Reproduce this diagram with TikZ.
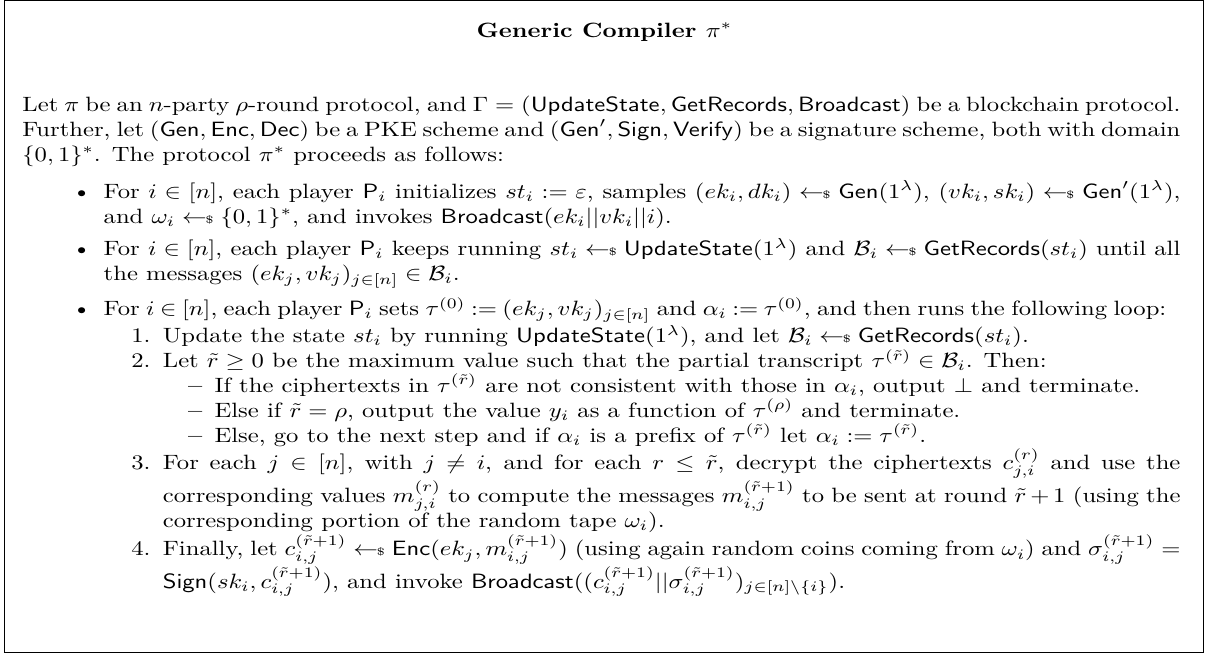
\documentclass[tikz,border=0pt]{standalone}
\usepackage{amsmath}
\usepackage{amssymb}
\usepackage{enumitem}
\usepackage{tikz}
\usetikzlibrary{positioning}

\newcommand{\smp}{\mathrel{\leftarrow\mkern-6mu{\scriptscriptstyle\$}}}
\newcommand{\alg}[1]{\mathsf{#1}}

\tikzset{
  boxtitle/.style={font=\bfseries, inner sep=0pt, yscale=0.84},
  boxbody/.style={text width=470pt, align=justify, inner sep=0pt, anchor=north west, yscale=0.84},
}

\begin{document}
\begin{tikzpicture}[x=1pt, y=1pt]
        \useasboundingbox (0, 0) rectangle (491.5, -265.8);
        \draw (2, -0.2) rectangle (488.6, -265);

        \node[boxtitle, anchor=base] (title) at (245.3, -15.2) {Generic Compiler $\pi^*$};

        \node[boxbody] (body) at (8.9, -38.8) {%
        Let $\pi$ be an $n$-party $\rho$-round protocol, and $\Gamma = (\alg{UpdateState}, \alg{GetRecords}, \alg{Broadcast})$ be a blockchain protocol. Further, let $(\alg{Gen}, \alg{Enc}, \alg{Dec})$ be a PKE scheme and $(\alg{Gen}', \alg{Sign}, \alg{Verify})$ be a signature scheme, both with domain $\{0,1\}^*$. The protocol $\pi^*$ proceeds as follows:
        \begin{itemize}[leftmargin=33pt, topsep=6pt, partopsep=0pt, itemsep=3.6pt, parsep=0pt]
          \item For $i \in [n]$, each player $\alg{P}_i$ initializes $st_i := \varepsilon$, samples $(ek_i, dk_i) \smp \alg{Gen}(1^\lambda)$, $(vk_i, sk_i) \smp \alg{Gen}'(1^\lambda)$, and $\omega_i \smp \{0,1\}^*$, and invokes $\alg{Broadcast}(ek_i || vk_i || i)$.
          \item For $i \in [n]$, each player $\alg{P}_i$ keeps running $st_i \smp \alg{UpdateState}(1^\lambda)$ and $\mathcal{B}_i \smp \alg{GetRecords}(st_i)$ until all the messages $(ek_j, vk_j)_{j \in [n]} \in \mathcal{B}_i$.
          \item {\spaceskip=.26em plus .1em minus .1em \thickmuskip=4mu plus 3mu minus 2mu For $i \in [n]$, each player $\alg{P}_i$ sets $\tau^{(0)} := (ek_j, vk_j)_{j \in [n]}$ and $\alpha_i := \tau^{(0)}$, and then runs the following loop:}
          \begin{enumerate}[nosep, leftmargin=24pt]
            \item Update the state $st_i$ by running $\alg{UpdateState}(1^\lambda)$, and let $\mathcal{B}_i \smp \alg{GetRecords}(st_i)$.
            \item Let $\tilde{r} \geq 0$ be the maximum value such that the partial transcript $\tau^{(\tilde{r})} \in \mathcal{B}_i$. Then:
            \begin{itemize}[nosep, leftmargin=21pt]
              \item If the ciphertexts in $\tau^{(\tilde{r})}$ are not consistent with those in $\alpha_i$, output $\bot$ and terminate.
              \item Else if $\tilde{r} = \rho$, output the value $y_i$ as a function of $\tau^{(\rho)}$ and terminate.
              \item Else, go to the next step and if $\alpha_i$ is a prefix of $\tau^{(\tilde{r})}$ let $\alpha_i := \tau^{(\tilde{r})}$.
            \end{itemize}
            \item For each $j \in [n]$, with $j \neq i$, and for each $r \leq \tilde{r}$, decrypt the ciphertexts $c_{j,i}^{(r)}$ and use the corresponding values $m_{j,i}^{(r)}$ to compute the messages $m_{i,j}^{(\tilde{r}+1)}$ to be sent at round $\tilde{r}+1$ (using the corresponding portion of the random tape $\omega_i$).
            \item Finally, let $c_{i,j}^{(\tilde{r}+1)} \smp \alg{Enc}(ek_j, m_{i,j}^{(\tilde{r}+1)})$ (using again random coins coming from $\omega_i$) and $\sigma_{i,j}^{(\tilde{r}+1)} = \alg{Sign}(sk_i, c_{i,j}^{(\tilde{r}+1)})$, and invoke $\alg{Broadcast}((c_{i,j}^{(\tilde{r}+1)} || \sigma_{i,j}^{(\tilde{r}+1)})_{j \in [n] \setminus \{i\}})$.
          \end{enumerate}
        \end{itemize}
        };
\end{tikzpicture}
\end{document}
